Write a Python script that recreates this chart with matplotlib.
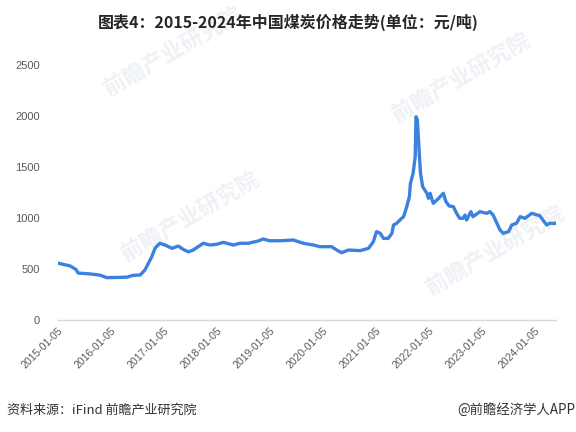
import matplotlib
matplotlib.use("Agg")
import matplotlib.pyplot as plt

plt.rcParams['font.family'] = ['Noto Sans CJK SC', 'DejaVu Sans']

years = [2015.01, 2015.23, 2015.34, 2015.38, 2015.60, 2015.79, 2015.92, 2016.17, 2016.30, 2016.42,
         2016.55, 2016.64, 2016.77, 2016.83, 2016.92, 2017.02, 2017.15, 2017.27, 2017.36, 2017.46,
         2017.55, 2017.74, 2017.87, 2017.99, 2018.12, 2018.31, 2018.43, 2018.59, 2018.78, 2018.87,
         2018.99, 2019.19, 2019.44, 2019.63, 2019.82, 2019.94, 2020.16, 2020.26, 2020.35, 2020.48,
         2020.70, 2020.86, 2020.95, 2021.01, 2021.08, 2021.14, 2021.23, 2021.30, 2021.33, 2021.39,
         2021.45, 2021.52, 2021.58, 2021.63, 2021.65, 2021.70, 2021.74, 2021.755, 2021.78, 2021.82,
         2021.84, 2021.88, 2021.92, 2021.96, 2021.99, 2022.02, 2022.08, 2022.15, 2022.21, 2022.27,
         2022.32, 2022.38, 2022.46, 2022.52, 2022.58, 2022.64, 2022.68, 2022.71, 2022.79, 2022.83,
         2022.96, 2023.09, 2023.15, 2023.21, 2023.34, 2023.40, 2023.50, 2023.56, 2023.65, 2023.72,
         2023.81, 2023.94, 2024.09, 2024.22, 2024.28, 2024.38]
prices = [556, 530, 495, 460, 452, 440, 415, 418, 420, 438,
          441, 490, 621, 703, 752, 735, 703, 725, 693, 668,
          686, 752, 735, 742, 761, 735, 752, 752, 775, 794,
          777, 777, 784, 752, 735, 719, 719, 686, 660, 686,
          680, 703, 768, 866, 850, 800, 800, 850, 931, 948,
          980, 1013, 1111, 1209, 1340, 1438, 1601, 1993, 1961, 1601,
          1438, 1307, 1275, 1242, 1193, 1242, 1144, 1176, 1209, 1242,
          1160, 1118, 1111, 1046, 997, 997, 1029, 980, 1062, 1013,
          1062, 1046, 1062, 1029, 882, 850, 866, 931, 948, 1013,
          997, 1046, 1022, 931, 948, 948]

tick_years = list(range(2015, 2025))
tick_labels = [f"{y}-01-05" for y in tick_years]
y_ticks = [0, 500, 1000, 1500, 2000, 2500]

fig = plt.figure(figsize=(5.76, 4.32), dpi=100)
ax = fig.add_axes([58/576, 1-320/432, (556-58)/576, (320-65)/432])
ax.set_zorder(2)

# faint watermarks (behind the plot)
for (wx, wy) in [(0.30, 0.88), (0.33, 0.50), (0.80, 0.82), (0.86, 0.42)]:
    fig.text(wx, wy, "前瞻产业研究院", fontsize=16, color="#eef1f5", rotation=30,
             ha="center", va="center", fontweight="bold", zorder=0)

ax.plot(years, prices, color="#3b82e0", linewidth=2.4, solid_joinstyle="round", zorder=3)

ax.set_xlim(2015.0, 2015 + (556-58)/53)
ax.set_ylim(0, 2500)
ax.set_yticks(y_ticks)
ax.set_yticklabels([str(v) for v in y_ticks], fontsize=8, color="#595959", family=['Liberation Sans', 'DejaVu Sans'])
ax.set_xticks(tick_years)
ax.set_xticklabels(tick_labels, rotation=45, ha="right", rotation_mode="anchor",
                   fontsize=7.5, color="#595959", family=['Liberation Sans', 'DejaVu Sans'])
ax.tick_params(axis="both", length=0)
ax.tick_params(axis="y", pad=13)
ax.tick_params(axis="x", pad=4)
for s in ["top", "right", "left"]:
    ax.spines[s].set_visible(False)
ax.spines["bottom"].set_color("#d9d9d9")
ax.spines["bottom"].set_linewidth(1.0)
ax.patch.set_alpha(0)

fig.text(0.5, 1-22/432, "图表4：2015-2024年中国煤炭价格走势(单位：元/吨)", ha="center", va="center",
         fontsize=11.5, fontweight="bold", color="#262626")
fig.text(7/576, 1-410/432, "资料来源：iFind 前瞻产业研究院", ha="left", va="center",
         fontsize=9.4, color="#333333")
fig.text(575/576, 1-410/432, "@前瞻经济学人APP", ha="right", va="center",
         fontsize=9.6, color="#333333")

fig.savefig("out.png", dpi=100)
